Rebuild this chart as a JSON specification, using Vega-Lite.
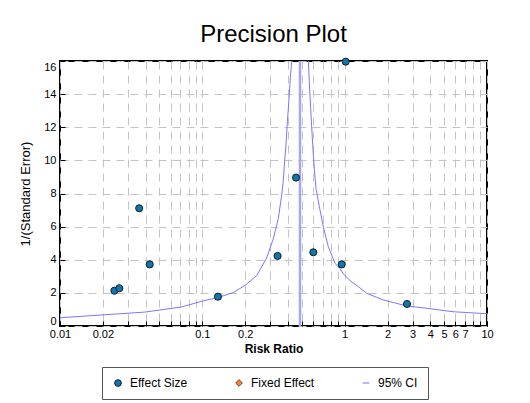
{
  "$schema": "https://vega.github.io/schema/vega-lite/v6.json",
  "width": 427,
  "height": 265,
  "autosize": {"type": "none"},
  "padding": {"left": 60, "top": 61, "right": 43, "bottom": 77},
  "background": "white",
  "title": {"text": "Precision Plot", "fontSize": 24, "font": "Liberation Sans", "fontWeight": "normal", "anchor": "middle", "offset": 9, "color": "black"},
  "config": {
    "view": {"stroke": "black", "strokeWidth": 2},
    "axis": {
      "labelFont": "Liberation Sans",
      "labelFontSize": 11,
      "labelColor": "black",
      "titleFont": "Liberation Sans",
      "titleColor": "black",
      "domain": false,
      "grid": true,
      "gridColor": "#c4c4c4",
      "gridDash": [8, 6],
      "gridWidth": 1,
      "tickColor": "black",
      "tickSize": -5,
      "tickCount": 100,
      "labelFlush": false,
      "labelOverlap": false
    }
  },
  "datasets": {
    "funnel": [
      {"rr": 0.01, "prec": 0.50, "side": "lower"},
      {"rr": 0.0395, "prec": 0.84, "side": "lower"},
      {"rr": 0.0716, "prec": 1.15, "side": "lower"},
      {"rr": 0.1016, "prec": 1.52, "side": "lower"},
      {"rr": 0.129, "prec": 1.72, "side": "lower"},
      {"rr": 0.165, "prec": 2.02, "side": "lower"},
      {"rr": 0.1995, "prec": 2.45, "side": "lower"},
      {"rr": 0.241, "prec": 3.05, "side": "lower"},
      {"rr": 0.283, "prec": 4.1, "side": "lower"},
      {"rr": 0.316, "prec": 5.3, "side": "lower"},
      {"rr": 0.342, "prec": 6.5, "side": "lower"},
      {"rr": 0.361, "prec": 7.9, "side": "lower"},
      {"rr": 0.370, "prec": 8.71, "side": "lower"},
      {"rr": 0.377, "prec": 9.72, "side": "lower"},
      {"rr": 0.387, "prec": 10.93, "side": "lower"},
      {"rr": 0.396, "prec": 12.34, "side": "lower"},
      {"rr": 0.408, "prec": 13.95, "side": "lower"},
      {"rr": 0.415, "prec": 14.96, "side": "lower"},
      {"rr": 0.4246, "prec": 16, "side": "lower"},
      {"rr": 0.5555, "prec": 16, "side": "upper"},
      {"rr": 0.5645, "prec": 14.75, "side": "upper"},
      {"rr": 0.577, "prec": 13.14, "side": "upper"},
      {"rr": 0.5926, "prec": 11.33, "side": "upper"},
      {"rr": 0.6089, "prec": 9.72, "side": "upper"},
      {"rr": 0.6289, "prec": 8.31, "side": "upper"},
      {"rr": 0.664, "prec": 7.2, "side": "upper"},
      {"rr": 0.708, "prec": 6.0, "side": "upper"},
      {"rr": 0.767, "prec": 4.79, "side": "upper"},
      {"rr": 0.855, "prec": 3.79, "side": "upper"},
      {"rr": 0.927, "prec": 3.45, "side": "upper"},
      {"rr": 0.978, "prec": 3.15, "side": "upper"},
      {"rr": 1.09, "prec": 2.75, "side": "upper"},
      {"rr": 1.28, "prec": 2.3, "side": "upper"},
      {"rr": 1.43, "prec": 1.97, "side": "upper"},
      {"rr": 1.87, "prec": 1.57, "side": "upper"},
      {"rr": 2.73, "prec": 1.21, "side": "upper"},
      {"rr": 3.77, "prec": 1.07, "side": "upper"},
      {"rr": 5.8, "prec": 0.86, "side": "upper"},
      {"rr": 10, "prec": 0.74, "side": "upper"}
    ],
    "fixed": [{"rr": 0.4855}],
    "studies": [
      {"rr": 0.0241, "prec": 2.13, "series": "Effect Size"},
      {"rr": 0.0261, "prec": 2.28, "series": "Effect Size"},
      {"rr": 0.0360, "prec": 7.11, "series": "Effect Size"},
      {"rr": 0.0427, "prec": 3.72, "series": "Effect Size"},
      {"rr": 0.1288, "prec": 1.77, "series": "Effect Size"},
      {"rr": 0.338, "prec": 4.23, "series": "Effect Size"},
      {"rr": 0.455, "prec": 8.96, "series": "Effect Size"},
      {"rr": 0.602, "prec": 4.45, "series": "Effect Size"},
      {"rr": 0.953, "prec": 3.72, "series": "Effect Size"},
      {"rr": 1.017, "prec": 15.96, "series": "Effect Size"},
      {"rr": 2.74, "prec": 1.33, "series": "Effect Size"}
    ]
  },
  "layer": [
    {
      "data": {"name": "funnel"},
      "mark": {"type": "line", "color": "#7878ff", "strokeWidth": 1, "clip": true},
      "encoding": {
        "x": {
          "field": "rr", "type": "quantitative",
          "scale": {"type": "log", "domain": [0.01, 10], "nice": false},
          "axis": {
            "title": "Risk Ratio",
            "titleFontSize": 12,
            "titleFontWeight": "bold",
            "titlePadding": 4,
            "labelPadding": 7,
            "values": [0.01, 0.02, 0.03, 0.04, 0.05, 0.06, 0.07, 0.08, 0.09, 0.1, 0.2, 0.3, 0.4, 0.5, 0.6, 0.7, 0.8, 0.9, 1, 2, 3, 4, 5, 6, 7, 8, 9, 10],
            "labelExpr": "indexof([0.01, 0.02, 0.1, 0.2, 1, 2, 3, 4, 5, 6, 7, 10], datum.value) >= 0 ? format(datum.value, '~g') : ''"
          }
        },
        "y": {
          "field": "prec", "type": "quantitative",
          "scale": {"domain": [0, 16], "nice": false},
          "axis": {
            "title": "1/(Standard Error)",
            "titleFontSize": 13,
            "titleFontWeight": "normal",
            "titlePadding": 11,
            "labelPadding": 9,
            "format": "d",
            "labelFlush": true,
            "labelFlushOffset": 0,
            "values": [0, 2, 4, 6, 8, 10, 12, 14, 16]
          }
        },
        "detail": {"field": "side"}
      }
    },
    {
      "data": {"name": "fixed"},
      "mark": {"type": "rule", "color": "#a4a4ff", "strokeWidth": 2.5},
      "encoding": {
        "x": {"field": "rr", "type": "quantitative", "scale": {"type": "log", "domain": [0.01, 10], "nice": false}}
      }
    },
    {
      "data": {"name": "studies"},
      "mark": {"type": "point", "filled": true, "size": 50, "strokeWidth": 1, "opacity": 1, "clip": false},
      "encoding": {
        "x": {"field": "rr", "type": "quantitative", "scale": {"type": "log", "domain": [0.01, 10], "nice": false}},
        "y": {"field": "prec", "type": "quantitative", "scale": {"domain": [0, 16], "nice": false}},
        "fill": {
          "field": "series", "type": "nominal",
          "scale": {"domain": ["Effect Size", "Fixed Effect", "95% CI"], "range": ["#0b78b4", "#f5823c", "#6e6eff"]},
          "legend": {"title": null, "orient": "none", "direction": "horizontal", "legendX": 42, "legendY": 306, "strokeColor": "#555555", "padding": 10, "columnPadding": 45, "labelFont": "Liberation Sans", "labelFontSize": 12, "labelColor": "black", "symbolSize": 45, "symbolStrokeWidth": 1, "fillColor": "white", "labelOffset": 6}
        },
        "stroke": {
          "field": "series", "type": "nominal",
          "scale": {"domain": ["Effect Size", "Fixed Effect", "95% CI"], "range": ["#1a1a1a", "#7a3a10", "#6e6eff"]},
          "legend": {"title": null, "orient": "none", "direction": "horizontal", "legendX": 42, "legendY": 306, "strokeColor": "#555555", "padding": 10, "columnPadding": 45, "labelFont": "Liberation Sans", "labelFontSize": 12, "labelColor": "black", "symbolSize": 45, "symbolStrokeWidth": 1, "fillColor": "white", "labelOffset": 6}
        },
        "shape": {
          "field": "series", "type": "nominal",
          "scale": {"domain": ["Effect Size", "Fixed Effect", "95% CI"], "range": ["circle", "diamond", "stroke"]},
          "legend": {"title": null, "orient": "none", "direction": "horizontal", "legendX": 42, "legendY": 306, "strokeColor": "#555555", "padding": 10, "columnPadding": 45, "labelFont": "Liberation Sans", "labelFontSize": 12, "labelColor": "black", "symbolSize": 45, "symbolStrokeWidth": 1, "fillColor": "white", "labelOffset": 6}
        }
      }
    }
  ]
}
